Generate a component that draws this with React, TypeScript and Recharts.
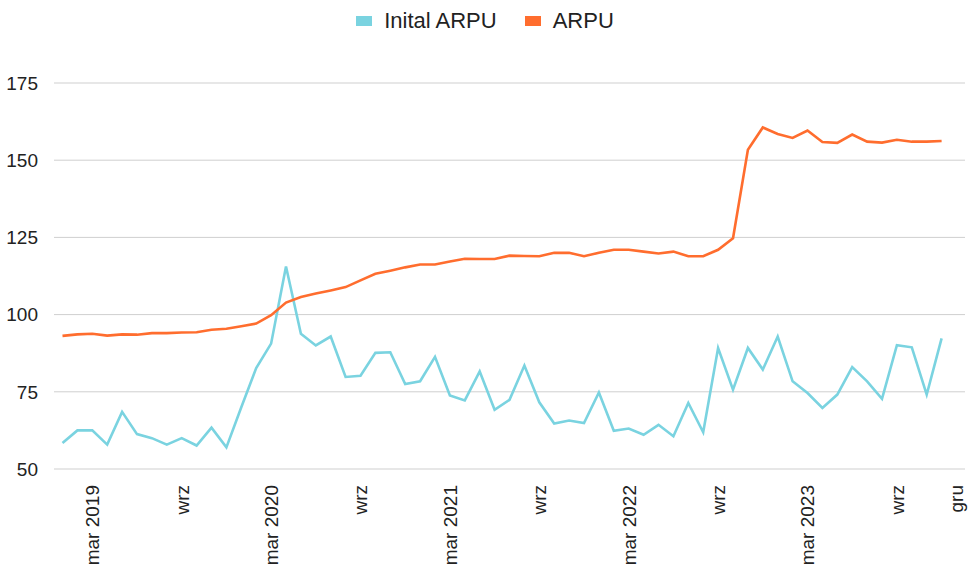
import React from 'react';
import { LineChart, Line, XAxis, YAxis, CartesianGrid, Legend } from 'recharts';

const months: string[] = [
  '2019-01','2019-02','2019-03','2019-04','2019-05','2019-06','2019-07','2019-08','2019-09','2019-10','2019-11','2019-12',
  '2020-01','2020-02','2020-03','2020-04','2020-05','2020-06','2020-07','2020-08','2020-09','2020-10','2020-11','2020-12',
  '2021-01','2021-02','2021-03','2021-04','2021-05','2021-06','2021-07','2021-08','2021-09','2021-10','2021-11','2021-12',
  '2022-01','2022-02','2022-03','2022-04','2022-05','2022-06','2022-07','2022-08','2022-09','2022-10','2022-11','2022-12',
  '2023-01','2023-02','2023-03','2023-04','2023-05','2023-06','2023-07','2023-08','2023-09','2023-10','2023-11','2023-12',
];

const initialArpu: number[] = [
  58.4, 62.5, 62.5, 57.9, 68.5, 61.3, 60.0, 57.9, 60.0, 57.6,
  63.4, 57.0, 70.0, 82.7, 90.6, 115.6, 93.8, 90.0, 92.9, 79.8,
  80.2, 87.6, 87.8, 77.5, 78.4, 86.3, 73.8, 72.2, 81.6, 69.2,
  72.4, 83.5, 71.6, 64.7, 65.7, 64.9, 74.8, 62.4, 63.1, 61.1,
  64.3, 60.6, 71.4, 61.9, 89.2, 75.7, 89.2, 82.2, 92.9, 78.4,
  74.6, 69.8, 74.1, 83.0, 78.4, 72.7, 90.1, 89.4, 74.1, 92.3,
];

const arpu: number[] = [
  93.1, 93.6, 93.8, 93.2, 93.6, 93.5, 94.0, 94.0, 94.2, 94.3,
  95.1, 95.4, 96.2, 97.1, 99.8, 103.9, 105.7, 106.8, 107.8, 108.9,
  111.1, 113.2, 114.2, 115.3, 116.2, 116.2, 117.2, 118.1, 118.0, 118.0,
  119.1, 119.0, 118.9, 120.0, 120.0, 118.9, 120.0, 121.0, 121.0, 120.4,
  119.8, 120.4, 118.9, 118.9, 121.0, 124.7, 153.4, 160.6, 158.5, 157.2,
  159.6, 155.9, 155.6, 158.3, 156.0, 155.7, 156.6, 156.0, 156.0, 156.2,
];

const tickPositions: number[] = [2, 8, 14, 20, 26, 32, 38, 44, 50, 56, 60];
const tickLabels: string[] = ['mar 2019', 'wrz', 'mar 2020', 'wrz', 'mar 2021', 'wrz', 'mar 2022', 'wrz', 'mar 2023', 'wrz', 'gru'];
const yTicks: number[] = [50, 75, 100, 125, 150, 175];

const seriesNames = ['Inital ARPU', 'ARPU'];
const seriesColors = ['#7AD3E0', '#FF6D2E'];

const FONT = '"Liberation Sans", Arial, sans-serif';

const data = months.map((m, i) => ({ idx: i, month: m, initial: initialArpu[i], arpu: arpu[i] }));

const XTick = (props: any) => {
  const { x, y, payload } = props;
  const i = tickPositions.indexOf(payload.value);
  const label = i >= 0 ? tickLabels[i] : '';
  return (
    <g transform={`translate(${x},${y})`}>
      <text
        transform="rotate(-90)"
        x={-8}
        y={0}
        dy="0.36em"
        textAnchor="end"
        fill="#222"
        fontSize={19}
        fontFamily={FONT}
      >
        {label}
      </text>
    </g>
  );
};

const renderLegend = () => (
  <div style={{ display: 'flex', justifyContent: 'center', alignItems: 'center', fontFamily: FONT, fontSize: 22, color: '#222' }}>
    {seriesNames.map((n, i) => (
      <div key={n} style={{ display: 'flex', alignItems: 'center', marginRight: i === 0 ? 28 : 0 }}>
        <span style={{ display: 'inline-block', width: 16, height: 10, background: seriesColors[i], marginRight: 12 }} />
        <span>{n}</span>
      </div>
    ))}
  </div>
);

export default function App() {
  return (
    <div style={{ position: 'absolute', left: 0, top: 0, width: 970, height: 567, background: '#fff' }}>
      <LineChart width={970} height={567} data={data} margin={{ top: 83, right: 5, bottom: 0, left: 0 }}>
        <CartesianGrid vertical={false} stroke="#cfcfcf" strokeWidth={1} />
        <XAxis
          dataKey="idx"
          type="number"
          domain={[-0.57, 60.57]}
          ticks={tickPositions}
          tick={<XTick />}
          tickLine={false}
          axisLine={false}
          height={98}
          interval={0}
          allowDataOverflow
        />
        <YAxis
          domain={[50, 175]}
          ticks={yTicks}
          width={54}
          tickLine={false}
          axisLine={false}
          tickMargin={10}
          tick={{ fill: '#222', fontSize: 19, fontFamily: FONT }}
        />
        <Legend
          layout="horizontal"
          verticalAlign="middle"
          align="center"
          content={renderLegend}
          wrapperStyle={{ top: 8, left: 0, width: 970 }}
        />
        <Line
          type="linear"
          dataKey="initial"
          name={seriesNames[0]}
          stroke={seriesColors[0]}
          strokeWidth={2.6}
          dot={false}
          isAnimationActive={false}
        />
        <Line
          type="linear"
          dataKey="arpu"
          name={seriesNames[1]}
          stroke={seriesColors[1]}
          strokeWidth={2.6}
          dot={false}
          isAnimationActive={false}
        />
      </LineChart>
    </div>
  );
}
